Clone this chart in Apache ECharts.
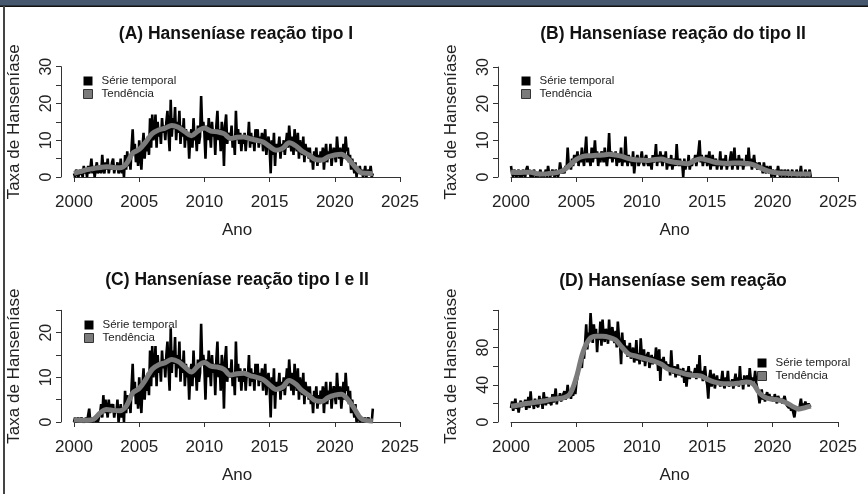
<!DOCTYPE html>
<html>
<head>
<meta charset="utf-8">
<script src="https://cdn.jsdelivr.net/npm/echarts@6/dist/echarts.min.js"></script>
<style>
  html, body { margin: 0; padding: 0; background: #fff; }
  #chart { width: 868px; height: 494px; }
</style>
</head>
<body>
<div id="chart"></div>
<script>
// serie mensal 2000-01 .. 2022-12, uma linha por ano
var tipoI_serie = [
  1,0,2,1,0,1,2,1,0,3,1,2,
  0,3,1,2,5,1,3,0,2,4,1,2,
  3,1,6,2,1,4,2,5,1,3,2,4,
  5,1,3,2,4,1,2,5,1,3,0,6,
  2,7,3,5,2,8,13,6,9,4,7,3,
  10,6,2,8,12,5,9,7,11,6,16,8,
  17,10,12,17,8,15,11,13,9,16,12,14,
  10,15,18,12,7,21,11,16,13,19,10,15,
  12,18,9,14,11,16,8,13,10,12,5,11,
  13,8,16,10,12,7,14,9,11,22,13,15,
  12,5,14,10,16,12,8,15,11,13,6,14,
  18,10,13,7,15,12,3,14,17,9,12,11,
  10,14,8,11,6,18,10,13,9,12,7,11,
  9,12,7,11,10,15,8,12,9,11,7,13,
  10,13,8,11,9,12,7,10,13,6,9,11,
  8,1,10,6,12,3,9,7,8,11,5,9,
  7,10,6,9,12,8,14,10,7,11,6,13,
  9,7,12,5,10,8,6,11,4,9,7,8,
  5,8,4,6,2,7,5,8,3,6,4,7,
  5,8,2,6,9,4,7,5,9,3,6,8,
  6,4,11,7,5,8,3,6,9,5,11,7,
  8,4,6,2,5,3,1,4,0,2,1,3,
  1,2,0,1,3,0,1,2,1,3,0,1
];
var tipoII_serie = [
  3,1,0,2,1,0,1,2,0,1,0,2,
  1,0,2,3,1,2,0,1,0,2,1,0,
  1,0,1,2,0,1,0,1,2,0,3,1,
  0,1,2,1,0,2,1,0,1,4,2,1,
  2,1,3,2,8,3,4,2,5,3,6,4,
  5,7,3,6,4,8,5,3,7,11,4,6,
  5,3,8,4,6,10,5,7,3,6,4,7,
  6,4,8,5,3,6,12,5,7,4,6,5,
  7,3,6,4,5,8,3,6,4,11,5,3,
  6,4,5,3,7,1,4,5,6,3,4,5,
  7,4,3,5,6,4,3,5,4,2,6,4,
  5,9,3,6,4,7,5,3,6,4,7,2,
  4,5,3,6,2,4,5,3,9,4,3,5,
  3,4,0,5,2,4,3,6,2,4,3,5,
  4,6,3,5,7,10,4,6,3,5,4,6,
  3,5,7,2,4,6,3,4,5,2,4,3,
  7,2,4,5,3,6,2,4,3,5,7,2,
  4,8,3,5,2,6,4,3,5,2,4,3,
  6,3,8,4,5,2,4,6,3,4,2,3,
  4,2,3,1,4,2,1,3,2,1,3,0,
  2,1,0,2,1,3,1,0,2,1,0,2,
  1,0,2,1,0,1,2,0,1,0,2,1,
  0,1,3,0,1,0,2,1,0,1,2,0
];
var tipoIeII_serie = [
  0,1,0,0,1,0,0,1,0,0,0,1,
  0,0,3,0,1,0,0,1,0,1,0,1,
  2,4,1,6,2,5,3,1,5,2,4,3,
  4,1,3,2,5,0,2,4,1,3,0,7,
  2,6,3,5,2,8,13,6,9,4,7,3,
  10,6,2,8,12,5,9,7,11,6,16,8,
  17,10,12,17,8,15,11,13,9,16,12,14,
  10,15,18,12,7,21,11,16,13,19,10,15,
  12,18,9,14,11,16,8,13,10,12,5,11,
  13,8,16,10,12,7,14,9,11,22,13,15,
  12,5,14,10,16,12,8,15,11,13,6,14,
  18,10,13,7,15,12,3,14,17,9,12,11,
  10,14,8,11,6,18,10,13,9,12,7,11,
  9,12,7,11,10,15,8,12,9,11,7,13,
  10,13,8,11,9,12,7,10,13,6,9,11,
  8,1,10,6,12,3,9,7,8,11,5,9,
  7,10,6,9,12,8,14,10,7,11,6,13,
  9,7,12,5,10,8,6,11,4,9,7,8,
  5,8,4,6,2,7,5,8,3,6,4,7,
  5,8,2,6,9,4,7,5,9,3,6,8,
  6,4,11,7,5,8,3,6,9,5,11,7,
  8,4,7,2,5,3,1,4,0,2,1,0,
  0,1,0,0,1,0,0,1,0,0,0,3
];
var semReacao_serie = [
  15,22,12,18,25,14,20,10,19,23,16,21,
  17,24,13,20,27,15,33,18,22,14,25,19,
  21,16,28,19,25,14,32,22,18,27,20,24,
  23,18,30,21,26,36,19,28,24,31,22,27,
  26,33,24,29,40,27,31,25,34,28,38,30,
  42,48,56,62,70,58,75,68,85,105,78,96,
  90,117,98,85,105,92,100,75,95,88,108,82,
  110,92,86,100,96,84,110,88,95,102,90,85,
  98,80,108,92,85,62,96,78,88,74,82,70,
  76,85,68,72,80,64,70,88,66,74,62,90,
  72,65,78,60,70,68,75,58,66,72,62,70,
  64,80,72,55,78,44,68,62,70,58,65,60,
  56,62,50,77,58,52,60,48,55,62,50,57,
  54,48,58,42,55,38,52,60,46,54,50,48,
  52,58,46,62,50,72,48,55,44,52,60,46,
  40,25,48,56,38,45,52,36,44,50,40,46,
  38,45,55,40,36,48,42,55,38,44,40,46,
  36,44,52,40,48,38,60,42,46,35,50,44,
  42,50,38,58,46,40,48,44,55,42,36,30,
  20,28,35,24,30,22,28,32,25,30,24,27,
  26,22,30,24,20,28,26,22,25,20,24,28,
  22,18,20,15,18,12,16,10,5,14,12,15,
  12,18,25,16,20,14,22,18,15,20,17,18
];

// tendencia, lida a cada meio ano
var anosTendencia = [2000,2000.5,2001,2001.5,2002,2002.5,2003,2003.5,2004,2004.5,
  2005,2005.5,2006,2006.5,2007,2007.5,2008,2008.5,2009,2009.5,
  2010,2010.5,2011,2011.5,2012,2012.5,2013,2013.5,2014,2014.5,
  2015,2015.5,2016,2016.5,2017,2017.5,2018,2018.5,2019,2019.5,
  2020,2020.5,2021,2021.5,2022,2022.5,2022.92];
var tipoI_tendencia = [1.0,1.5,2.0,2.3,2.6,2.8,2.6,2.5,3.5,6.5,
  7.5,9.5,11.8,12.8,13.3,14.0,13.5,12.3,11.2,12.5,
  13.3,12.5,12.3,11.8,10.5,10.8,10.9,10.4,10.0,9.5,
  8.3,7.3,7.8,9.3,8.5,7.0,6.0,4.8,4.6,5.5,
  6.0,6.2,5.0,3.0,1.2,1.0,0.9];
var tipoII_tendencia = [1.3,1.2,1.3,1.3,0.9,0.8,1.0,1.2,1.8,3.2,
  4.8,5.6,5.8,5.9,6.0,6.2,6.0,5.6,5.0,4.7,
  4.6,4.5,4.8,4.9,4.4,4.0,3.8,3.6,4.4,5.0,
  4.6,4.1,3.8,3.7,3.8,3.8,3.7,3.4,2.6,1.8,
  1.3,1.1,1.0,0.9,0.8,0.8,0.8];
var tipoIeII_tendencia = [0.5,0.4,0.4,0.6,2.0,2.8,2.6,2.5,3.5,6.5,
  7.5,9.5,11.8,12.8,13.3,14.0,13.5,12.3,11.2,12.5,
  13.3,12.5,12.3,11.8,10.5,10.8,10.9,10.4,10.0,9.5,
  8.3,7.3,7.8,9.3,8.5,7.0,6.0,4.8,4.6,5.5,
  6.0,6.2,5.0,3.0,0.8,0.3,0.2];
var semReacao_tendencia = [17,18,19.5,20.5,21.5,22.5,24,25,26,30,
  48,75,89,92,92,91,88,80,73,71,
  69,67,65,62,57,55,53,51,50,49.5,
  46,43,41.5,41,41,42,43,41,31,26,
  24.5,23.5,21,17,14,15.5,17];

var titulos = ['(A) Hanseníase reação tipo I', '(B) Hanseníase reação do tipo II',
  '(C) Hanseníase reação tipo I e II', '(D) Hanseníase sem reação'];
var xTicks = [2000, 2025, 5];
var yMax = [30, 30, 25, 120];
var yPasso = [5, 5, 5, 20];
// rotulos que o R deixou visiveis no eixo y
var yRotulos = [[0, 10, 20, 30], [0, 10, 20, 30], [0, 10, 20], [0, 40, 80]];

var series_ = [tipoI_serie, tipoII_serie, tipoIeII_serie, semReacao_serie];
var tendencias = [tipoI_tendencia, tipoII_tendencia, tipoIeII_tendencia, semReacao_tendencia];

var grids = [
  {left: 74, top: 66.7, width: 326, height: 110.3},
  {left: 511, top: 67, width: 327, height: 110},
  {left: 74, top: 310.3, width: 326, height: 111.7},
  {left: 511, top: 310.3, width: 327, height: 111.7}
];
var legendas = [
  {left: 83, top: 75},
  {left: 521, top: 75},
  {left: 84, top: 319},
  {left: 757, top: 357}
];
var posTitulo = [[236, 25], [673, 25], [237, 271], [673, 272]];

var fonte = '"Liberation Sans", Arial, sans-serif';
var cor = '#222';

var chart = echarts.init(document.getElementById('chart'));

var meses = tipoI_serie.map(function(v, i){ return 2000 + i / 12; });
function pares(xs, ys){
  return ys.map(function(v, i){ return [xs[i], v]; });
}

var xAxis = [], yAxis = [], series = [], legend = [], title = [];
grids.forEach(function(g, i){
  xAxis.push({
    gridIndex: i, type: 'value', min: xTicks[0], max: xTicks[1], interval: xTicks[2],
    offset: 5,
    name: 'Ano', nameLocation: 'middle', nameGap: 40,
    nameTextStyle: {fontSize: 17, color: cor, fontFamily: fonte},
    axisLine: {show: true, lineStyle: {color: '#333', width: 1}},
    axisTick: {show: true, length: 5, lineStyle: {color: '#333'}},
    axisLabel: {fontSize: 17, color: cor, fontFamily: fonte, margin: 12,
      showMinLabel: true, showMaxLabel: true,
      formatter: function(v){ return String(v); }},
    splitLine: {show: false}
  });
  yAxis.push({
    gridIndex: i, type: 'value', min: 0, max: yMax[i], interval: yPasso[i],
    offset: 13,
    name: 'Taxa de Hanseníase', nameLocation: 'middle', nameGap: 38, nameRotate: 90,
    nameTextStyle: {fontSize: 17, color: cor, fontFamily: fonte},
    axisLine: {show: true, lineStyle: {color: '#333', width: 1}},
    axisTick: {show: true, length: 5, lineStyle: {color: '#333'}},
    axisLabel: {rotate: 90, fontSize: 16, color: cor, fontFamily: fonte, margin: 6,
      showMinLabel: true, showMaxLabel: true,
      formatter: function(v){ return yRotulos[i].indexOf(v) >= 0 ? String(v) : ''; }},
    splitLine: {show: false}
  });
  series.push({
    name: 'Série temporal', type: 'line', xAxisIndex: i, yAxisIndex: i,
    data: pares(meses, series_[i]), showSymbol: false,
    lineStyle: {color: '#000', width: 2.6}, itemStyle: {color: '#000'}, z: 2
  });
  series.push({
    name: 'Tendência', type: 'line', xAxisIndex: i, yAxisIndex: i,
    data: pares(anosTendencia, tendencias[i]), showSymbol: false, smooth: 0.35,
    lineStyle: {color: '#7b7b7b', width: 5}, itemStyle: {color: '#7b7b7b'}, z: 3
  });
  legend.push({
    left: legendas[i].left, top: legendas[i].top, orient: 'vertical',
    padding: 0, itemGap: 1, itemWidth: 9, itemHeight: 9, icon: 'rect',
    textStyle: {fontSize: 11.5, color: cor, fontFamily: fonte, lineHeight: 12, padding: [0, 0, 0, 4]},
    data: [
      {name: 'Série temporal', itemStyle: {color: '#000'}},
      {name: 'Tendência', itemStyle: {color: '#7b7b7b', borderColor: '#333', borderWidth: 1}}
    ],
    selectedMode: false
  });
  title.push({
    text: titulos[i], left: posTitulo[i][0], top: posTitulo[i][1], textAlign: 'center', padding: 0,
    textStyle: {fontSize: 17.5, fontWeight: 'bold', color: '#111', fontFamily: fonte}
  });
});

chart.setOption({
  animation: false,
  backgroundColor: '#fff',
  title: title,
  grid: grids,
  xAxis: xAxis,
  yAxis: yAxis,
  legend: legend,
  series: series,
  graphic: [
    {type: 'rect', shape: {x: 0, y: 0, width: 868, height: 6}, style: {fill: '#46586e'}, z: 100},
    {type: 'rect', shape: {x: 0, y: 5.5, width: 868, height: 1.5}, style: {fill: '#111'}, z: 100},
    {type: 'rect', shape: {x: 3, y: 6, width: 2, height: 488}, style: {fill: '#444'}, z: 100}
  ]
});
</script>
</body>
</html>
